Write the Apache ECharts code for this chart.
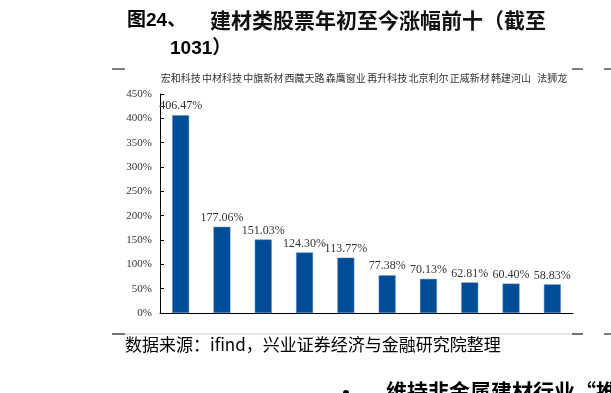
<!DOCTYPE html>
<html>
<head>
<meta charset="utf-8">
<script src="https://cdn.jsdelivr.net/npm/echarts@6/dist/echarts.min.js"></script>
<style>
  html, body { margin: 0; padding: 0; background: #fff; }
  #chart { width: 611px; height: 393px; }
</style>
</head>
<body>
<div id="chart"></div>
<script>
// 建材类股票年初至今涨幅前十
var categories = ['宏和科技', '中材科技', '中旗新材', '西藏天路', '森鹰窗业', '再升科技', '北京利尔', '正威新材', '韩建河山', '法狮龙'];
var gains = [406.47, 177.06, 151.03, 124.30, 113.77, 77.38, 70.13, 62.81, 60.40, 58.83];
var yMin = 0, yMax = 450, yStep = 50;

var chart = echarts.init(document.getElementById('chart'));

var option = {
  backgroundColor: '#fff',
  animation: false,
  grid: { left: 160, right: 38, top: 94, bottom: 80 },
  xAxis: [
    {
      type: 'category',
      data: categories,
      position: 'bottom',
      axisLine: { lineStyle: { color: '#000', width: 1 } },
      axisTick: { show: false },
      axisLabel: { show: false }
    },
    {
      type: 'category',
      data: categories,
      position: 'top',
      axisLine: { show: false },
      axisTick: { show: false },
      axisLabel: {
        show: true,
        interval: 0,
        margin: 11,
        fontSize: 10,
        color: '#333',
        fontFamily: 'Noto Sans CJK SC'
      }
    }
  ],
  yAxis: {
    type: 'value',
    min: yMin,
    max: yMax,
    interval: yStep,
    axisLine: { show: true, lineStyle: { color: '#000', width: 1 } },
    axisTick: { show: true, inside: true, length: 4, lineStyle: { color: '#000' } },
    splitLine: { show: false },
    axisLabel: {
      formatter: '{value}%',
      fontSize: 11,
      color: '#333',
      margin: 8,
      fontFamily: 'Liberation Serif'
    }
  },
  series: [
    {
      type: 'bar',
      data: gains,
      barWidth: '41%',
      itemStyle: { color: '#004c97', borderColor: '#5d87bb', borderWidth: 0.5 },
      label: {
        show: true,
        position: 'top',
        distance: 3,
        formatter: function (p) { return p.value.toFixed(2) + '%'; },
        fontSize: 12,
        color: '#333',
        fontFamily: 'Liberation Serif'
      }
    }
  ],
  graphic: [
    { type: 'text', left: 127, top: 11, style: { text: '图24、', font: 'bold 19px "Liberation Sans", "Noto Sans CJK SC"', fill: '#000' } },
    { type: 'text', left: 210, top: 10, style: { text: '建材类股票年初至今涨幅前十（截至', font: 'bold 21px "Noto Sans CJK SC"', fill: '#111' } },
    { type: 'text', left: 170, top: 39, style: { text: '1031）', font: 'bold 19px "Liberation Sans", "Noto Sans CJK SC"', fill: '#000' } },
    { type: 'line', shape: { x1: 112, y1: 69, x2: 125, y2: 69 }, style: { stroke: '#000', lineWidth: 1 } },
    { type: 'line', shape: { x1: 572, y1: 69, x2: 583, y2: 69 }, style: { stroke: '#000', lineWidth: 1 } },
    { type: 'line', shape: { x1: 604, y1: 69, x2: 611, y2: 69 }, style: { stroke: '#000', lineWidth: 1 } },
    { type: 'line', shape: { x1: 112, y1: 334, x2: 583, y2: 334 }, style: { stroke: '#ccc', lineWidth: 1 } },
    { type: 'line', shape: { x1: 112, y1: 334, x2: 125, y2: 334 }, style: { stroke: '#000', lineWidth: 1 } },
    { type: 'line', shape: { x1: 572, y1: 334, x2: 583, y2: 334 }, style: { stroke: '#000', lineWidth: 1 } },
    { type: 'line', shape: { x1: 604, y1: 334, x2: 611, y2: 334 }, style: { stroke: '#000', lineWidth: 1 } },
    { type: 'text', left: 125, top: 336, style: { text: '数据来源：ifind，兴业证券经济与金融研究院整理', font: '17px "Noto Sans CJK SC"', fill: '#000' } },
    { type: 'circle', shape: { cx: 346, cy: 393, r: 3 }, style: { fill: '#000' } },
    { type: 'text', left: 386, top: 381, style: { text: '维持非金属建材行业“推', font: 'bold 21px "Noto Sans CJK SC"', fill: '#000' } }
  ]
};

chart.setOption(option);
</script>
</body>
</html>
